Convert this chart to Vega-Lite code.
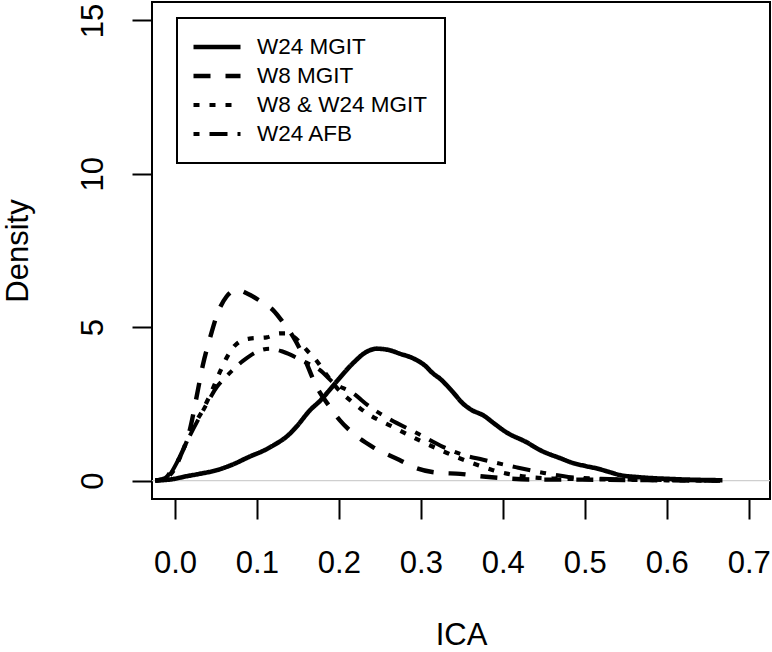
{
  "$schema": "https://vega.github.io/schema/vega-lite/v6.json",
  "width": 618,
  "height": 497,
  "autosize": {"type": "none"},
  "padding": {"left": 152, "top": 2, "right": 2, "bottom": 153},
  "background": "white",
  "config": {
    "font": "Liberation Sans",
    "view": {"stroke": "black", "strokeWidth": 2},
    "axis": {
      "domain": false,
      "grid": false,
      "ticks": true,
      "tickColor": "black",
      "tickWidth": 2,
      "tickSize": 20,
      "labelFont": "Liberation Sans",
      "labelFontSize": 31,
      "labelColor": "black",
      "labelFlush": false,
      "labelOverlap": false,
      "titleFont": "Liberation Sans",
      "titleFontSize": 31,
      "titleFontWeight": "normal",
      "titleColor": "black"
    },
    "legend": {
      "orient": "none",
      "legendX": 25,
      "legendY": 16,
      "direction": "vertical",
      "symbolType": "stroke",
      "symbolSize": 2209,
      "symbolStrokeColor": "black",
      "symbolOffset": -3,
      "labelFont": "Liberation Sans",
      "labelFontSize": 22.5,
      "labelColor": "black",
      "labelLimit": 0,
      "labelOffset": 14,
      "rowPadding": 5,
      "padding": 17,
      "strokeColor": "black",
      "fillColor": "white"
    }
  },
  "datasets": {
    "curves": [
      {"g": "W24 MGIT", "ICA": -0.024, "Density": 0},
      {"g": "W24 MGIT", "ICA": 0.0, "Density": 0.06},
      {"g": "W24 MGIT", "ICA": 0.01, "Density": 0.12},
      {"g": "W24 MGIT", "ICA": 0.03, "Density": 0.22},
      {"g": "W24 MGIT", "ICA": 0.051, "Density": 0.34},
      {"g": "W24 MGIT", "ICA": 0.07, "Density": 0.52},
      {"g": "W24 MGIT", "ICA": 0.091, "Density": 0.78},
      {"g": "W24 MGIT", "ICA": 0.11, "Density": 1.0},
      {"g": "W24 MGIT", "ICA": 0.124, "Density": 1.21},
      {"g": "W24 MGIT", "ICA": 0.137, "Density": 1.45},
      {"g": "W24 MGIT", "ICA": 0.148, "Density": 1.75},
      {"g": "W24 MGIT", "ICA": 0.165, "Density": 2.3},
      {"g": "W24 MGIT", "ICA": 0.177, "Density": 2.6},
      {"g": "W24 MGIT", "ICA": 0.187, "Density": 2.9},
      {"g": "W24 MGIT", "ICA": 0.197, "Density": 3.22},
      {"g": "W24 MGIT", "ICA": 0.217, "Density": 3.82},
      {"g": "W24 MGIT", "ICA": 0.234, "Density": 4.2},
      {"g": "W24 MGIT", "ICA": 0.246, "Density": 4.3},
      {"g": "W24 MGIT", "ICA": 0.262, "Density": 4.25},
      {"g": "W24 MGIT", "ICA": 0.274, "Density": 4.14},
      {"g": "W24 MGIT", "ICA": 0.291, "Density": 3.98},
      {"g": "W24 MGIT", "ICA": 0.305, "Density": 3.75},
      {"g": "W24 MGIT", "ICA": 0.315, "Density": 3.49},
      {"g": "W24 MGIT", "ICA": 0.323, "Density": 3.33},
      {"g": "W24 MGIT", "ICA": 0.339, "Density": 2.89},
      {"g": "W24 MGIT", "ICA": 0.351, "Density": 2.52},
      {"g": "W24 MGIT", "ICA": 0.362, "Density": 2.3},
      {"g": "W24 MGIT", "ICA": 0.376, "Density": 2.13},
      {"g": "W24 MGIT", "ICA": 0.39, "Density": 1.85},
      {"g": "W24 MGIT", "ICA": 0.404, "Density": 1.58},
      {"g": "W24 MGIT", "ICA": 0.429, "Density": 1.25},
      {"g": "W24 MGIT", "ICA": 0.445, "Density": 1.0},
      {"g": "W24 MGIT", "ICA": 0.47, "Density": 0.73},
      {"g": "W24 MGIT", "ICA": 0.486, "Density": 0.57},
      {"g": "W24 MGIT", "ICA": 0.5, "Density": 0.48},
      {"g": "W24 MGIT", "ICA": 0.514, "Density": 0.4},
      {"g": "W24 MGIT", "ICA": 0.53, "Density": 0.28},
      {"g": "W24 MGIT", "ICA": 0.543, "Density": 0.18},
      {"g": "W24 MGIT", "ICA": 0.567, "Density": 0.11},
      {"g": "W24 MGIT", "ICA": 0.607, "Density": 0.05},
      {"g": "W24 MGIT", "ICA": 0.668, "Density": 0.01},

      {"g": "W8 MGIT", "ICA": -0.024, "Density": 0},
      {"g": "W8 MGIT", "ICA": -0.012, "Density": 0.08},
      {"g": "W8 MGIT", "ICA": -0.004, "Density": 0.34},
      {"g": "W8 MGIT", "ICA": 0.006, "Density": 0.77},
      {"g": "W8 MGIT", "ICA": 0.018, "Density": 1.64},
      {"g": "W8 MGIT", "ICA": 0.028, "Density": 2.95},
      {"g": "W8 MGIT", "ICA": 0.034, "Density": 3.76},
      {"g": "W8 MGIT", "ICA": 0.043, "Density": 4.67},
      {"g": "W8 MGIT", "ICA": 0.052, "Density": 5.45},
      {"g": "W8 MGIT", "ICA": 0.063, "Density": 6.0},
      {"g": "W8 MGIT", "ICA": 0.075, "Density": 6.22},
      {"g": "W8 MGIT", "ICA": 0.088, "Density": 6.1},
      {"g": "W8 MGIT", "ICA": 0.107, "Density": 5.8},
      {"g": "W8 MGIT", "ICA": 0.12, "Density": 5.55},
      {"g": "W8 MGIT", "ICA": 0.132, "Density": 5.15},
      {"g": "W8 MGIT", "ICA": 0.144, "Density": 4.7},
      {"g": "W8 MGIT", "ICA": 0.156, "Density": 4.1},
      {"g": "W8 MGIT", "ICA": 0.173, "Density": 3.05},
      {"g": "W8 MGIT", "ICA": 0.189, "Density": 2.4},
      {"g": "W8 MGIT", "ICA": 0.201, "Density": 1.97},
      {"g": "W8 MGIT", "ICA": 0.217, "Density": 1.55},
      {"g": "W8 MGIT", "ICA": 0.241, "Density": 1.1},
      {"g": "W8 MGIT", "ICA": 0.274, "Density": 0.67},
      {"g": "W8 MGIT", "ICA": 0.295, "Density": 0.4},
      {"g": "W8 MGIT", "ICA": 0.323, "Density": 0.25},
      {"g": "W8 MGIT", "ICA": 0.348, "Density": 0.22},
      {"g": "W8 MGIT", "ICA": 0.37, "Density": 0.15},
      {"g": "W8 MGIT", "ICA": 0.4, "Density": 0.08},
      {"g": "W8 MGIT", "ICA": 0.45, "Density": 0.03},
      {"g": "W8 MGIT", "ICA": 0.5, "Density": 0.03},
      {"g": "W8 MGIT", "ICA": 0.55, "Density": 0.02},
      {"g": "W8 MGIT", "ICA": 0.6, "Density": 0.01},
      {"g": "W8 MGIT", "ICA": 0.665, "Density": 0.0},

      {"g": "W8 & W24 MGIT", "ICA": -0.024, "Density": 0},
      {"g": "W8 & W24 MGIT", "ICA": -0.01, "Density": 0.1},
      {"g": "W8 & W24 MGIT", "ICA": 0.0, "Density": 0.4},
      {"g": "W8 & W24 MGIT", "ICA": 0.01, "Density": 1.0},
      {"g": "W8 & W24 MGIT", "ICA": 0.022, "Density": 1.74},
      {"g": "W8 & W24 MGIT", "ICA": 0.034, "Density": 2.3},
      {"g": "W8 & W24 MGIT", "ICA": 0.043, "Density": 2.8},
      {"g": "W8 & W24 MGIT", "ICA": 0.055, "Density": 3.55},
      {"g": "W8 & W24 MGIT", "ICA": 0.063, "Density": 4.0},
      {"g": "W8 & W24 MGIT", "ICA": 0.075, "Density": 4.45},
      {"g": "W8 & W24 MGIT", "ICA": 0.091, "Density": 4.63},
      {"g": "W8 & W24 MGIT", "ICA": 0.112, "Density": 4.67},
      {"g": "W8 & W24 MGIT", "ICA": 0.128, "Density": 4.8},
      {"g": "W8 & W24 MGIT", "ICA": 0.137, "Density": 4.8},
      {"g": "W8 & W24 MGIT", "ICA": 0.149, "Density": 4.6},
      {"g": "W8 & W24 MGIT", "ICA": 0.161, "Density": 4.25},
      {"g": "W8 & W24 MGIT", "ICA": 0.173, "Density": 3.9},
      {"g": "W8 & W24 MGIT", "ICA": 0.185, "Density": 3.45},
      {"g": "W8 & W24 MGIT", "ICA": 0.2, "Density": 2.95},
      {"g": "W8 & W24 MGIT", "ICA": 0.217, "Density": 2.55},
      {"g": "W8 & W24 MGIT", "ICA": 0.234, "Density": 2.2},
      {"g": "W8 & W24 MGIT", "ICA": 0.266, "Density": 1.75},
      {"g": "W8 & W24 MGIT", "ICA": 0.299, "Density": 1.3},
      {"g": "W8 & W24 MGIT", "ICA": 0.332, "Density": 0.9},
      {"g": "W8 & W24 MGIT", "ICA": 0.348, "Density": 0.72},
      {"g": "W8 & W24 MGIT", "ICA": 0.37, "Density": 0.5},
      {"g": "W8 & W24 MGIT", "ICA": 0.388, "Density": 0.34},
      {"g": "W8 & W24 MGIT", "ICA": 0.41, "Density": 0.2},
      {"g": "W8 & W24 MGIT", "ICA": 0.43, "Density": 0.12},
      {"g": "W8 & W24 MGIT", "ICA": 0.46, "Density": 0.07},
      {"g": "W8 & W24 MGIT", "ICA": 0.5, "Density": 0.05},
      {"g": "W8 & W24 MGIT", "ICA": 0.55, "Density": 0.03},
      {"g": "W8 & W24 MGIT", "ICA": 0.6, "Density": 0.01},
      {"g": "W8 & W24 MGIT", "ICA": 0.665, "Density": 0.0},

      {"g": "W24 AFB", "ICA": -0.024, "Density": 0},
      {"g": "W24 AFB", "ICA": -0.01, "Density": 0.1},
      {"g": "W24 AFB", "ICA": 0.004, "Density": 0.67},
      {"g": "W24 AFB", "ICA": 0.017, "Density": 1.4},
      {"g": "W24 AFB", "ICA": 0.03, "Density": 2.07},
      {"g": "W24 AFB", "ICA": 0.043, "Density": 2.7},
      {"g": "W24 AFB", "ICA": 0.051, "Density": 3.05},
      {"g": "W24 AFB", "ICA": 0.063, "Density": 3.4},
      {"g": "W24 AFB", "ICA": 0.083, "Density": 3.9},
      {"g": "W24 AFB", "ICA": 0.1, "Density": 4.2},
      {"g": "W24 AFB", "ICA": 0.116, "Density": 4.3},
      {"g": "W24 AFB", "ICA": 0.132, "Density": 4.2},
      {"g": "W24 AFB", "ICA": 0.156, "Density": 3.9},
      {"g": "W24 AFB", "ICA": 0.177, "Density": 3.6},
      {"g": "W24 AFB", "ICA": 0.193, "Density": 3.2},
      {"g": "W24 AFB", "ICA": 0.217, "Density": 2.85},
      {"g": "W24 AFB", "ICA": 0.238, "Density": 2.4},
      {"g": "W24 AFB", "ICA": 0.262, "Density": 2.0},
      {"g": "W24 AFB", "ICA": 0.295, "Density": 1.55},
      {"g": "W24 AFB", "ICA": 0.327, "Density": 1.1},
      {"g": "W24 AFB", "ICA": 0.35, "Density": 0.85},
      {"g": "W24 AFB", "ICA": 0.376, "Density": 0.68},
      {"g": "W24 AFB", "ICA": 0.417, "Density": 0.43},
      {"g": "W24 AFB", "ICA": 0.45, "Density": 0.25},
      {"g": "W24 AFB", "ICA": 0.48, "Density": 0.12},
      {"g": "W24 AFB", "ICA": 0.52, "Density": 0.06},
      {"g": "W24 AFB", "ICA": 0.56, "Density": 0.03},
      {"g": "W24 AFB", "ICA": 0.6, "Density": 0.02},
      {"g": "W24 AFB", "ICA": 0.665, "Density": 0.0}
    ],
    "baseline": [{"Density": 0}]
  },
  "layer": [
    {
      "data": {"name": "baseline"},
      "mark": {"type": "rule", "color": "#cfcfcf", "strokeWidth": 1.3},
      "encoding": {
        "y": {"field": "Density", "type": "quantitative"}
      }
    },
    {
      "data": {"name": "curves"},
      "mark": {"type": "line", "color": "black", "interpolate": "monotone", "strokeCap": "butt", "strokeJoin": "round"},
      "encoding": {
        "x": {
          "field": "ICA",
          "type": "quantitative",
          "scale": {"domain": [-0.028, 0.726], "nice": false, "zero": false},
          "axis": {
            "values": [0, 0.1, 0.2, 0.3, 0.4, 0.5, 0.6, 0.7],
            "format": ".1f",
            "labelPadding": 29,
            "title": "ICA",
            "titleX": 309,
            "titleY": 121,
            "titleAlign": "center",
            "titleBaseline": "top"
          }
        },
        "y": {
          "field": "Density",
          "type": "quantitative",
          "scale": {"domain": [-0.6, 15.6], "nice": false, "zero": false},
          "axis": {
            "values": [0, 5, 10, 15],
            "labelAngle": 270,
            "labelAlign": "center",
            "labelBaseline": "bottom",
            "labelPadding": 23,
            "title": "Density",
            "titleAngle": 270,
            "titleAlign": "center",
            "titleBaseline": "bottom",
            "titleX": -118,
            "titleY": 248.5
          }
        },
        "detail": {"field": "g", "type": "nominal"},
        "strokeDash": {
          "field": "g",
          "type": "nominal",
          "scale": {
            "domain": ["W24 MGIT", "W8 MGIT", "W8 & W24 MGIT", "W24 AFB"],
            "range": [[1, 0], [17, 15], [6, 10], [6, 10, 18, 10]]
          },
          "legend": {
            "title": null,
            "encode": {
              "legend": {"update": {"strokeWidth": {"value": 2}}},
              "symbols": {"update": {"y": {"value": 12}}},
              "labels": {"update": {"y": {"value": 12}}}
            }
          }
        },
        "strokeWidth": {
          "field": "g",
          "type": "nominal",
          "scale": {
            "domain": ["W24 MGIT", "W8 MGIT", "W8 & W24 MGIT", "W24 AFB"],
            "range": [4.6, 4, 4, 4]
          },
          "legend": {
            "title": null,
            "encode": {
              "legend": {"update": {"strokeWidth": {"value": 2}}},
              "symbols": {"update": {"y": {"value": 12}}},
              "labels": {"update": {"y": {"value": 12}}}
            }
          }
        }
      }
    }
  ]
}
